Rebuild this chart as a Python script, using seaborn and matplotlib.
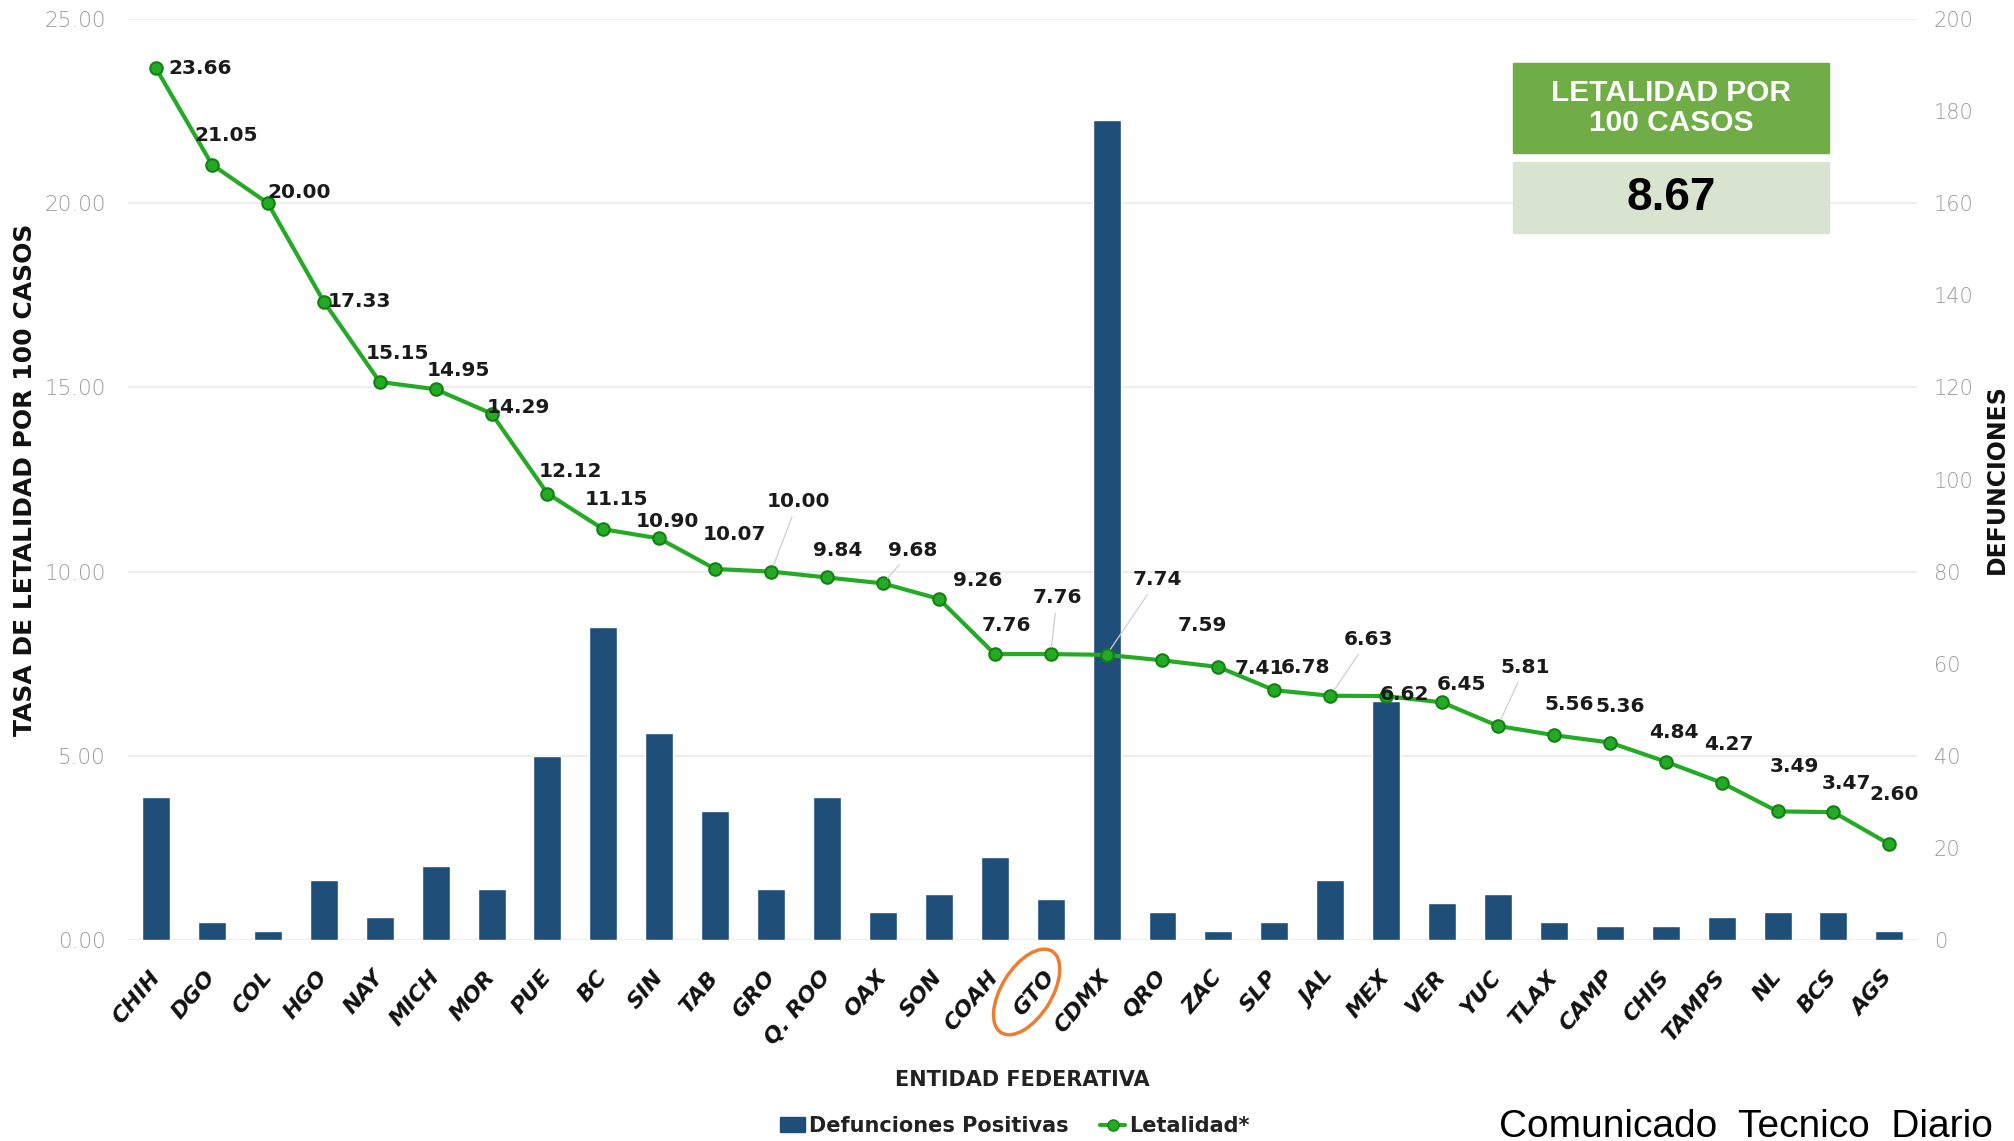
import matplotlib
matplotlib.use("Agg")
import matplotlib.pyplot as plt
import matplotlib.patches as mpatches
from matplotlib.lines import Line2D
import numpy as np
import pandas as pd
import seaborn as sns

# data
estados = ["CHIH", "DGO", "COL", "HGO", "NAY", "MICH", "MOR", "PUE", "BC", "SIN",
           "TAB", "GRO", "Q. ROO", "OAX", "SON", "COAH", "GTO", "CDMX", "QRO", "ZAC",
           "SLP", "JAL", "MEX", "VER", "YUC", "TLAX", "CAMP", "CHIS", "TAMPS", "NL",
           "BCS", "AGS"]
defunciones = [31, 4, 2, 13, 5, 16, 11, 40, 68, 45,
               28, 11, 31, 6, 10, 18, 9, 178, 6, 2,
               4, 13, 52, 8, 10, 4, 3, 3, 5, 6,
               6, 2]
letalidad = [23.66, 21.05, 20.00, 17.33, 15.15, 14.95, 14.29, 12.12, 11.15, 10.90,
             10.07, 10.00, 9.84, 9.68, 9.26, 7.76, 7.76, 7.74, 7.59, 7.41,
             6.78, 6.63, 6.62, 6.45, 5.81, 5.56, 5.36, 4.84, 4.27, 3.49,
             3.47, 2.60]
letalidad_nacional = 8.67
left_ticks = [0, 5, 10, 15, 20, 25]
right_ticks = list(range(0, 201, 20))

# label offsets (pixels, x right / y up) and which ones get a leader line
label_off = [(10, 0), (11, 23), (0, 8), (3, 0), (14, 22), (18, 15), (-4, 5), (18, 17),
             (10, 23), (6, 13), (15, 27), (21, 55), (8, 21), (23, 26), (30, 14), (9, 22),
             (5, 44), (40, 59), (31, 27), (32, -1), (24, 18), (30, 44), (14, 1), (15, 14),
             (21, 46), (12, 24), (8, 28), (6, 23), (6, 30), (13, 35), (10, 22), (4, 39)]
leader = {11, 13, 16, 17, 21, 24}
left_anchor = {0, 2, 3, 6}

df = pd.DataFrame({"estado": estados, "defunciones": defunciones, "letalidad": letalidad})

sns.set_style("white")
plt.rcParams["font.family"] = ["DejaVu Sans"]

blue = "#1F4E79"
green = "#25AA25"
tick_gray = "#9a9a9a"

fig = plt.figure(figsize=(20.14, 11.41), dpi=100)
ax = fig.add_axes([0.0636, 0.1762, 0.8884, 0.8071])
ax2 = ax.twinx()

# bars on the right axis scale
sns.barplot(data=df, x="estado", y="defunciones", color=blue, width=0.5,
            saturation=1, ax=ax, zorder=2)
ax.set_ylim(0, 200)
ax.set_yticks(right_ticks)
ax.set_yticklabels([str(t) for t in right_ticks])
for t in left_ticks:
    ax.axhline(t * 8, color="#eeeeee", lw=1.5, zorder=0)

# lethality line on the left axis scale
sns.pointplot(data=df, x="estado", y="letalidad", color=green, markers="o",
              linestyles="-", errorbar=None, ax=ax2, markersize=9, linewidth=3,
              markeredgecolor="#138013", markeredgewidth=1.5)
ax2.set_ylim(0, 25)
ax2.set_yticks(left_ticks)
ax2.set_yticklabels(["%.2f" % t for t in left_ticks])
ax.set_xlim(-0.5, len(estados) - 0.5)
ax2.set_xlim(-0.5, len(estados) - 0.5)

ax.yaxis.tick_right()
ax2.yaxis.tick_left()

for a in (ax, ax2):
    for s in a.spines.values():
        s.set_visible(False)
ax.tick_params(axis="y", length=0, pad=12, labelsize=15, labelcolor=tick_gray)
ax2.tick_params(axis="y", length=0, pad=16, labelsize=15.5, labelcolor=tick_gray)
for lab in ax.get_yticklabels() + ax2.get_yticklabels():
    lab.set_fontweight("light")

ax.set_xticks(range(len(estados)))
ax.set_xticklabels(estados, rotation=50, ha="right", va="center",
                   rotation_mode="anchor", fontsize=16, fontweight="bold",
                   fontstyle="italic", color="#111111")
ax.tick_params(axis="x", length=0, pad=24)
ax2.tick_params(axis="x", length=0, labelbottom=False)

ax.set_xlabel("ENTIDAD FEDERATIVA", fontsize=15, fontweight="bold",
              color="#222222", va="center")
ax.xaxis.set_label_coords(0.5, -0.152)

ax.yaxis.set_label_position("right")
ax.set_ylabel("DEFUNCIONES", fontsize=17, fontweight="bold", color="#111111")
ax.yaxis.label.set_va("center")
ax.yaxis.set_label_coords(1.0445, 0.5)

ax2.yaxis.set_label_position("left")
ax2.set_ylabel("TASA DE LETALIDAD POR 100 CASOS", fontsize=18, fontweight="bold",
               color="#111111")
ax2.yaxis.label.set_va("center")
ax2.yaxis.set_label_coords(-0.0576, 0.5)

# value labels
for i, v in enumerate(letalidad):
    dx, dy = label_off[i]
    ha = "left" if i in left_anchor else "center"
    arrow = None
    if i in leader:
        arrow = dict(arrowstyle="-", color="#cfcfcf", lw=0.9, shrinkA=2, shrinkB=5)
    ax2.annotate("%.2f" % v, (i, v), xytext=(dx * 1.28, dy * 1.28),
                 textcoords="offset pixels", ha=ha, va="center", fontsize=14.5,
                 fontweight="bold", color="#1a1a1a", arrowprops=arrow, zorder=5)

# national lethality box
fig.patches.append(mpatches.Rectangle((1513 / 2014, 1 - 153 / 1141), 316 / 2014, 90 / 1141,
                                      transform=fig.transFigure, color="#70AD47", zorder=5))
fig.patches.append(mpatches.Rectangle((1513 / 2014, 1 - 233 / 1141), 316 / 2014, 71 / 1141,
                                      transform=fig.transFigure, color="#D8E4D0", zorder=5))
fig.text(1671 / 2014, 1 - 108 / 1141, "LETALIDAD POR\n100 CASOS", ha="center", va="center",
         fontsize=21.5, fontweight="bold", color="white", family="Liberation Sans",
         linespacing=1.05, zorder=6)
fig.text(1671 / 2014, 1 - 198 / 1141, "%.2f" % letalidad_nacional, ha="center", va="center",
         fontsize=33, fontweight="bold", color="black", family="Liberation Sans", zorder=6)

# orange ring around GTO
fig.canvas.draw()
gx, gy = ax.transData.transform((estados.index("GTO"), 0))
ring = mpatches.Ellipse((gx - 24, gy - 52), 96, 50, angle=58, fill=False,
                        edgecolor="#ED7D31", lw=2.5, transform=None, zorder=10)
fig.patches.append(ring)

# legend
handles = [mpatches.Patch(color=blue, label="Defunciones Positivas"),
           Line2D([0], [0], color=green, lw=3, marker="o", markersize=8,
                  markeredgecolor="#138013", label="Letalidad*")]
leg = fig.legend(handles=handles, loc="center", bbox_to_anchor=(1015 / 2014, 1 - 1126 / 1141),
                 ncol=2, frameon=False, fontsize=15, handlelength=1.2, handletextpad=0.2,
                 columnspacing=1.5)
for t in leg.get_texts():
    t.set_fontweight("bold")
    t.set_color("#222222")

fig.text(1993 / 2014, 1 - 1137 / 1141, "Comunicado  Tecnico  Diario", ha="right",
         va="baseline", fontsize=28, family="Liberation Sans", color="black")

fig.savefig("out.png", dpi=100)
